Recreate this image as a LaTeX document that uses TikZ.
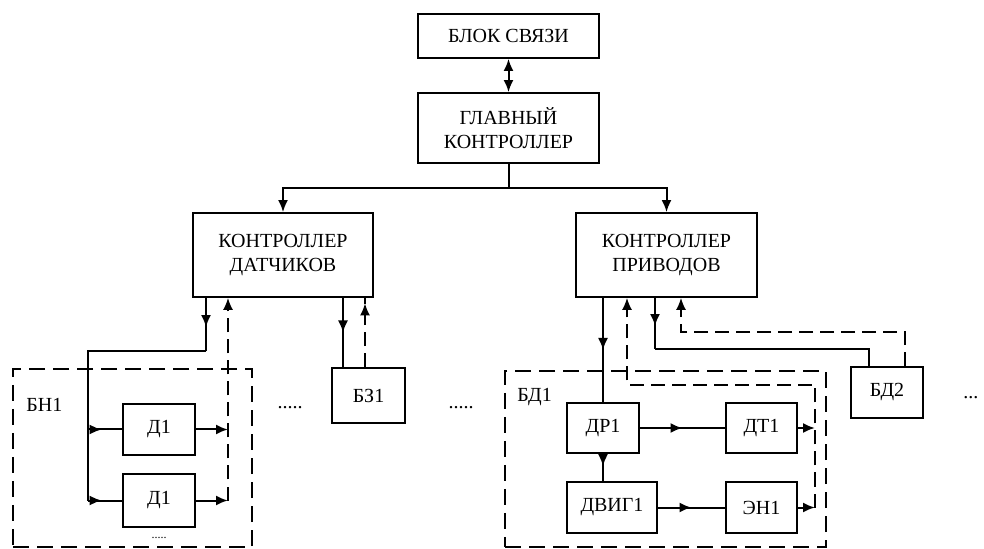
\documentclass[tikz,border=0pt]{standalone}
\usepackage{fontspec}
\setmainfont{Liberation Serif}
\usetikzlibrary{arrows.meta,calc,decorations.markings}
\tikzset{
  >={Latex[length=6pt,width=5pt]},
  blk/.style={draw, line width=0.9pt, inner sep=0pt, align=center,
    font=\fontsize{10}{12}\selectfont},
  conn/.style={line width=1pt},
  fb/.style={line width=0.8pt, dash pattern=on 7pt off 3.5pt},
  grp/.style={draw, line width=1.3pt, dash pattern=on 8pt off 4pt, inner sep=0pt},
  lbl/.style={inner sep=0pt, font=\fontsize{10}{12}\selectfont},
  midarrow/.style={postaction={decorate}, decoration={markings,
    mark=at position #1 with {\arrow{Latex[length=6pt,width=5pt]}}}}
}

\begin{document}
\begin{tikzpicture}[x=0.5pt, y=-0.5pt]
  \useasboundingbox (0,0) rectangle (984,549);

  % groups
  \node[grp, minimum width=119.5pt, minimum height=89pt] (bn) at (132.5,458) {};
  \node[grp, minimum width=160.5pt, minimum height=88pt] (bd) at (665.5,459) {};
  \node[lbl, anchor=west] (bnl) at (26,405) {БН1};
  \node[lbl, anchor=west] (bdl) at (517,397) {БД1};

  % blocks
  \node[blk, minimum width=90.5pt, minimum height=22pt] (bs) at (508.5,36) {БЛОК СВЯЗИ};
  \node[blk, minimum width=90.5pt, minimum height=35pt] (gk) at (508.5,128) {ГЛАВНЫЙ\\КОНТРОЛЛЕР};
  \node[blk, minimum width=90pt, minimum height=42pt] (dk) at (283,255) {КОНТРОЛЛЕР\\ДАТЧИКОВ};
  \node[blk, minimum width=90.5pt, minimum height=42pt] (pk) at (666.5,255) {КОНТРОЛЛЕР\\ПРИВОДОВ};
  \node[blk, minimum width=36.5pt, minimum height=27.5pt] (bz) at (368.5,395.5) {БЗ1};
  \node[blk, minimum width=36pt, minimum height=25.5pt] (bd2) at (887,392.5) {БД2};
  \node[blk, minimum width=36pt, minimum height=25.5pt] (d1a) at (159,429.5) {Д1};
  \node[blk, minimum width=36pt, minimum height=26.5pt] (d1b) at (159,500.5) {Д1};
  \node[blk, minimum width=36pt, minimum height=25pt] (dr) at (603,428) {ДР1};
  \node[blk, minimum width=35.5pt, minimum height=25pt] (dt) at (761.5,428) {ДТ1};
  \node[blk, minimum width=45pt, minimum height=25.5pt] (dv) at (612,507.5) {ДВИГ1};
  \node[blk, minimum width=35.5pt, minimum height=25.5pt] (en) at (761.5,507.5) {ЭН1};

  % dots
  \node[lbl] (dots1) at (159,538) {\fontsize{6}{6}\selectfont .....};
  \node[lbl] (dots2) at (290,408) {.....};
  \node[lbl] (dots3) at (461,408) {.....};
  \node[lbl, anchor=west] (dots4) at (963,398) {...};

  % lanes
  \coordinate (split) at (508.5,188);
  \coordinate (bus) at (88,0);
  \coordinate (fbn) at (228,0);
  \coordinate (bzs) at (343,0);
  \coordinate (bzd) at (365,0);
  \coordinate (fbp) at (815,385);
  \coordinate (fbd) at (627,0);
  \coordinate (bdk) at (655,349);
  \coordinate (bdin) at (869,0);
  \coordinate (bdb) at (905,332);
  \coordinate (bdd) at (681,0);
  \coordinate (bnk) at (206,351);

  % top level
  \draw[conn, <->] (bs.south) -- (gk.north);
  \draw[conn] (gk.south) -- (split);
  \draw[conn, ->] (split) -| (dk.north);
  \draw[conn, ->] (split) -| (pk.north);

  % sensors
  \draw[conn, midarrow=0.55] (dk.south -| bnk) -- (bnk);
  \draw[conn] (bnk) -- (bnk -| bus) -- (d1b.west -| bus);
  \draw[conn, midarrow=0.4] (d1a.west -| bus) -- (d1a.west);
  \draw[conn, midarrow=0.4] (d1b.west -| bus) -- (d1b.west);
  \draw[conn, ->] (d1a.east) -- (d1a.east -| fbn);
  \draw[conn, ->] (d1b.east) -- (d1b.east -| fbn);
  \draw[fb, ->] (d1b.east -| fbn) -- (dk.south -| fbn);
  \draw[conn, midarrow=0.5] (dk.south -| bzs) -- (bz.north -| bzs);
  \draw[fb, midarrow=0.92] (bz.north -| bzd) -- (dk.south -| bzd);

  % drives
  \draw[conn, midarrow=0.5] (pk.south -| dr.north) -- (dr.north);
  \draw[conn, midarrow=0.5] (dr.east) -- (dt.west);
  \draw[conn, midarrow=0.5] (dv.east) -- (en.west);
  \draw[conn, midarrow=0.45] (dr.south) -- (dr.south |- dv.north);
  \draw[conn, ->] (dt.east) -- (dt.east -| fbp);
  \draw[conn, ->] (en.east) -- (en.east -| fbp);
  \draw[fb, ->] (en.east -| fbp) -- (fbp) -- (fbp -| fbd) -- (pk.south -| fbd);
  \draw[conn, midarrow=0.55] (pk.south -| bdk) -- (bdk);
  \draw[conn] (bdk) -| (bd2.north -| bdin);
  \draw[fb, ->] (bd2.north -| bdb) -- (bdb) -- (bdb -| bdd) -- (pk.south -| bdd);
\end{tikzpicture}
\end{document}
